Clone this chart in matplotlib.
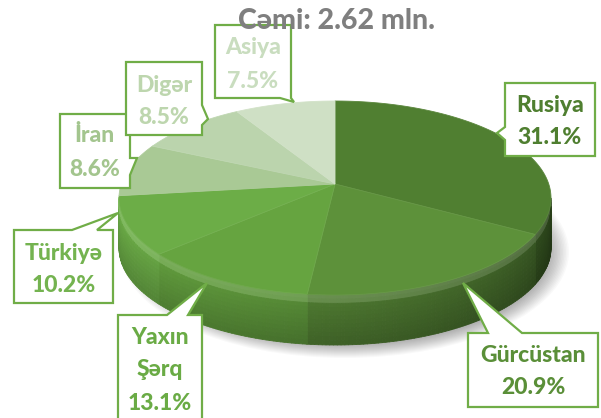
import numpy as np
import matplotlib
matplotlib.use("Agg")
import matplotlib.pyplot as plt
from matplotlib.patches import Polygon, Ellipse
from matplotlib.collections import PolyCollection
from matplotlib.colors import to_rgb

# data
regions = ["Rusiya", "Gürcüstan", "Yaxın Şərq", "Türkiyə", "İran", "Digər", "Asiya"]
shares = [31.1, 20.9, 13.1, 10.2, 8.6, 8.5, 7.5]
title = "Cəmi: 2.62 mln."

colors = ["#507f31", "#5d913a", "#66a440", "#6cad47", "#a9c995", "#bbd4ad", "#cfe0c5"]
text_colors = ["#4f7f30", "#5a8f38", "#6aab45", "#74b350", "#a3c58e", "#bdd6ae", "#c9ddbf"]
edge = "#70ad47"
font = ["Lato", "DejaVu Sans"]

# geometry of the pie in pixels (y goes down)
cx, cy = 335, 198
rx, ry = 216, 97
vx, vy = 335, 184   # apex of the slices (perspective)
depth = 50

# callout boxes: (x0, y0, x1, y1), side, pointer base, tip, first line y
boxes = [
    ((505, 83, 595, 156), "left", (127, 140), (497, 133), 105),
    ((468, 333, 598, 407), "top", (488, 522), (463, 283), 355),
    ((118, 315, 202, 430), "top", (167, 188), (207, 283), 337),
    ((14, 230, 113, 303), "top", (72, 97), (118, 213), 253),
    ((60, 114, 130, 188), "right", (158, 175), (137, 158), 136),
    ((126, 62, 202, 135), "right", (105, 125), (208, 119), 85),
    ((215, 25, 291, 98), "bottom", (280, 291), (294, 102), 48),
]
line_gap = 33


def ell(t):
    return cx + rx * np.cos(t), cy - ry * np.sin(t)


def mix(c, f, light=0.0):
    r, g, b = to_rgb(c)
    r, g, b = min(r * f, 1), min(g * f, 1), min(b * f, 1)
    return (r + (1 - r) * light, g + (1 - g) * light, b + (1 - b) * light)


def callout(box, side, base, tip):
    x0, y0, x1, y1 = box
    a, b = base
    pts = [(x0, y0)]
    if side == "top":
        pts += [(a, y0), tip, (b, y0)]
    pts += [(x1, y0)]
    if side == "right":
        pts += [(x1, a), tip, (x1, b)]
    pts += [(x1, y1)]
    if side == "bottom":
        pts += [(b, y1), tip, (a, y1)]
    pts += [(x0, y1)]
    if side == "left":
        pts += [(x0, b), tip, (x0, a)]
    return pts


fig = plt.figure(figsize=(6.01, 4.18), dpi=100)
ax = fig.add_axes([0, 0, 1, 1])
ax.set_xlim(0, 601)
ax.set_ylim(418, 0)
ax.axis("off")

# soft shadow
for i in range(14):
    ax.add_patch(Ellipse((cx + 10, cy + depth + 4), 2 * rx + 16 - i * 3, 2 * ry + 18 - i * 2,
                         color="#000000", alpha=0.022, lw=0, zorder=1))

# slice angles, clockwise from 12 o'clock
total = sum(shares)
bounds = 90 - np.cumsum([0] + shares) / total * 360
starts = np.radians(bounds[:-1])
ends = np.radians(bounds[1:])

# vertical profile of the side wall: rounded rim on top, darker to the bottom
vfr = np.linspace(0, 1, 13)
vprof = []
for a, b in zip(vfr[:-1], vfr[1:]):
    m = (a + b) / 2
    if m < 0.2:
        light = 0.22 * np.exp(-((m - 0.08) / 0.06) ** 2)
        f = 1.05
    else:
        light = 0.0
        f = 1.0 - 0.18 * (m - 0.2) / 0.8
    vprof.append((a, b, f, light))

quads, fcs = [], []
for i in range(len(shares)):
    ts = np.arange(ends[i], starts[i], np.radians(1.0))
    ts = np.append(ts, starts[i])
    for a, b in zip(ts[:-1], ts[1:]):
        m = (a + b) / 2 % (2 * np.pi)
        if np.sin(m) > 0.0:
            continue
        frac = (m - np.pi) / np.pi
        f = 0.97 - 0.47 * frac ** 1.5
        xa, ya = ell(a)
        xb, yb = ell(b)
        for v0, v1, vf, vl in vprof:
            quads.append([(xa, ya + v0 * depth), (xb, yb + v0 * depth),
                          (xb, yb + v1 * depth), (xa, ya + v1 * depth)])
            fcs.append(mix(colors[i], f * vf, vl))
side = PolyCollection(quads, facecolors=fcs, edgecolors=fcs, linewidths=0.6, zorder=2)
ax.add_collection(side)

# top surface
for i in range(len(shares)):
    ts = np.linspace(starts[i], ends[i], 120)
    xs, ys = ell(ts)
    pts = [(vx, vy)] + list(zip(xs, ys))
    ax.add_patch(Polygon(pts, closed=True, facecolor=colors[i],
                         edgecolor=mix(colors[i], 1.0, 0.06), lw=0.6, zorder=4))

# labels
for i, name in enumerate(regions):
    box, side_, base, tip, ly = boxes[i]
    ax.add_patch(Polygon(callout(box, side_, base, tip), closed=True, facecolor="white",
                         edgecolor=edge, lw=1.6, zorder=5, joinstyle="miter"))
    lines = name.split(" ") + ["%.1f%%" % shares[i]]
    xc = (box[0] + box[2]) / 2
    for k, s in enumerate(lines):
        ax.text(xc, ly + k * line_gap, s, ha="center", va="center", fontsize=16.5,
                fontweight=900, family=font, color=text_colors[i], zorder=6)

ax.text(336, 21, title, ha="center", va="center", fontsize=20.5, fontweight=900,
        family=font, color="#7f7f7f", zorder=7)

fig.savefig("out.png", dpi=100)
